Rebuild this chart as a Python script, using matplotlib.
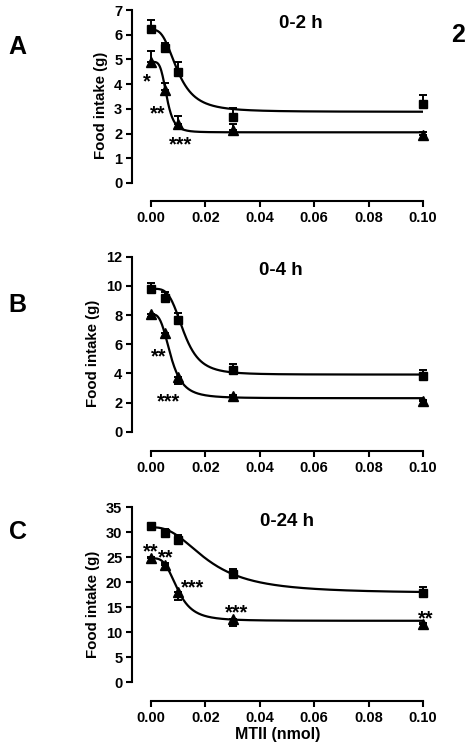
import numpy as np
import matplotlib
matplotlib.use("Agg")
from matplotlib import pyplot as plt

plt.rcParams['font.family'] = ['Liberation Sans', 'DejaVu Sans']
plt.rcParams['font.weight'] = 'bold'

# dosis de MTII (nmol)
dosis = [0.0, 0.005, 0.01, 0.03, 0.10]

# panel A (0-2 h)
a_cuad = [6.25, 5.45, 4.5, 2.65, 3.2]
a_cuad_err = [0.35, 0.22, 0.38, 0.37, 0.38]
a_tri = [4.9, 3.75, 2.4, 2.15, 1.95]
a_tri_err = [0.45, 0.3, 0.33, 0.25, 0.1]
a_tri_abajo = [0, 0, 0, 0, 0]

# panel B (0-4 h)
b_cuad = [9.8, 9.2, 7.65, 4.2, 3.85]
b_cuad_err = [0.4, 0.4, 0.5, 0.45, 0.35]
b_tri = [8.1, 6.8, 3.75, 2.45, 2.1]
b_tri_err = [0.25, 0.4, 0.45, 0.1, 0.1]
b_tri_abajo = [1, 1, 1, 0, 0]

# panel C (0-24 h)
c_cuad = [31.3, 29.9, 28.4, 21.6, 17.9]
c_cuad_err = [0.4, 0.8, 1.0, 1.0, 1.1]
c_tri = [24.8, 23.4, 18.1, 12.6, 11.6]
c_tri_err = [0.3, 0.4, 1.7, 1.4, 0.3]
c_tri_abajo = [0, 0, 1, 1, 0]

# parametros de ajuste (top, bottom, ec50, hill)
a_fit_cuad = [6.2, 2.88, 0.0098, 3.0]
a_fit_tri = [4.9, 2.05, 0.0058, 4.5]
b_fit_cuad = [9.8, 3.92, 0.012, 4.0]
b_fit_tri = [8.05, 2.3, 0.0073, 3.3]
c_fit_cuad = [31.0, 17.8, 0.021, 2.5]
c_fit_tri = [24.8, 12.3, 0.0098, 3.5]

# asteriscos (texto, x, y)
a_signif = [("*", -0.0016, 4.41), ("**", 0.0026, 3.12), ("***", 0.011, 1.86)]
b_signif = [("**", 0.0029, 5.67), ("***", 0.0063, 2.59)]
c_signif = [("**", -0.0003, 27.7), ("**", 0.0054, 26.5), ("***", 0.0151, 20.5),
            ("***", 0.0313, 15.5), ("**", 0.101, 14.3)]

W, H = 476, 749


def hill(x, p):
    top, bottom, ec50, h = p
    return bottom + (top - bottom) / (1 + (x / ec50) ** h)


def panel(fig, top_px, bottom_px, ymax, ystep, yfloor, titulo, titulo_x, letra, letra_y,
          cuad, cuad_err, tri, tri_err, tri_abajo, fit_c, fit_t, signif, xlabel=False):
    left_px, right_px = 132, 423
    ax = fig.add_axes([left_px / W, 1 - bottom_px / H, (right_px - left_px) / W,
                       (bottom_px - top_px) / H])
    ax.set_xlim(-0.007, 0.1)
    ax.set_ylim(yfloor, ymax)
    for s in ["top", "right"]:
        ax.spines[s].set_visible(False)
    ax.spines["left"].set_bounds(0, ymax)
    ax.spines["bottom"].set_bounds(0, 0.1)
    for s in ["left", "bottom"]:
        ax.spines[s].set_linewidth(1.5)
    ax.set_yticks(np.arange(0, ymax + 0.1, ystep))
    ax.set_xticks([0, 0.02, 0.04, 0.06, 0.08, 0.10])
    ax.set_xticklabels(["0.00", "0.02", "0.04", "0.06", "0.08", "0.10"])
    ax.tick_params(direction="out", length=4, width=1.5, labelsize=10.5, pad=3)
    ax.set_ylabel("Food intake (g)", fontsize=10.8, fontweight="bold", labelpad=4)
    if xlabel:
        ax.set_xlabel("MTII (nmol)", fontsize=11.5, fontweight="bold", labelpad=2)

    xs = np.linspace(0, 0.1, 400)
    ax.plot(xs, hill(xs, fit_c), color="black", lw=1.6)
    ax.plot(xs, hill(xs, fit_t), color="black", lw=1.6)

    ax.errorbar(dosis, cuad, yerr=[[0] * 5, cuad_err], fmt="s", color="black",
                ms=5.5, elinewidth=1.4, capsize=3, capthick=1.4, clip_on=False)
    abajo = [e if d else 0 for e, d in zip(tri_err, tri_abajo)]
    arriba = [0 if d else e for e, d in zip(tri_err, tri_abajo)]
    ax.errorbar(dosis, tri, yerr=[abajo, arriba], fmt="^", color="black",
                ms=6.5, elinewidth=1.4, capsize=3, capthick=1.4, clip_on=False)

    for txt, x, y in signif:
        ax.annotate(txt, (x, y), xytext=(0, -5.5), textcoords="offset points",
                    ha="center", va="center", fontsize=14.5, fontweight="bold",
                    annotation_clip=False)

    fig.text(titulo_x / W, 1 - (top_px + 14) / H, titulo,
             ha="center", va="center", fontsize=13.5, fontweight="bold")
    fig.text(17.5 / W, 1 - letra_y / H, letra, ha="center", va="center",
             fontsize=18, fontweight="bold")
    return ax


fig = plt.figure(figsize=(W / 100, H / 100), dpi=100)

panel(fig, 10, 201, 7, 1, -0.73, "0-2 h", 301, "A", 47,
      a_cuad, a_cuad_err, a_tri, a_tri_err, a_tri_abajo, a_fit_cuad, a_fit_tri, a_signif)
panel(fig, 256.7, 451, 12, 2, -1.32, "0-4 h", 281, "B", 305,
      b_cuad, b_cuad_err, b_tri, b_tri_err, b_tri_abajo, b_fit_cuad, b_fit_tri, b_signif)
panel(fig, 507.3, 701, 35, 5, -3.74, "0-24 h", 287, "C", 532,
      c_cuad, c_cuad_err, c_tri, c_tri_err, c_tri_abajo, c_fit_cuad, c_fit_tri, c_signif,
      xlabel=True)

fig.text(458 / W, 1 - 35 / H, "2", ha="center", va="center", fontsize=18, fontweight="bold")

plt.savefig("out.png", dpi=100)
